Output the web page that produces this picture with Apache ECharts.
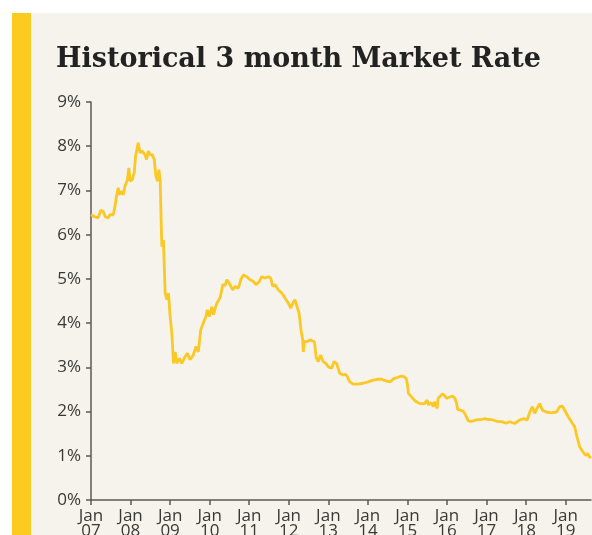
<!DOCTYPE html>
<html>
<head>
<meta charset="utf-8">
<script src="https://cdn.jsdelivr.net/npm/echarts@6/dist/echarts.min.js"></script>
<style>
  html, body { margin: 0; padding: 0; background: #fff; }
  .panel {
    position: absolute; left: 12px; top: 13px; width: 580px; height: 522px;
    background: #f5f3eb;
  }
  .bar {
    position: absolute; left: 12px; top: 13px; width: 19px; height: 522px;
    background: #fdcb1f;
  }
  #chart { position: absolute; left: 0; top: 0; width: 592px; height: 535px; }
</style>
</head>
<body>
<div class="panel"></div>
<div class="bar"></div>
<div id="chart"></div>
<script>
const dates = [
  '2007-01-01', '2007-02-07', '2007-03-08', '2007-04-02', '2007-04-23', '2007-05-14', '2007-06-09', '2007-06-25',
  '2007-07-25', '2007-08-10', '2007-08-24', '2007-09-09', '2007-09-18', '2007-10-09', '2007-10-25', '2007-11-10',
  '2007-12-03', '2007-12-16', '2007-12-28', '2008-01-16', '2008-02-04', '2008-02-16', '2008-03-12', '2008-03-28',
  '2008-04-18', '2008-05-13', '2008-05-28', '2008-06-13', '2008-06-28', '2008-07-19', '2008-08-07', '2008-08-23',
  '2008-09-06', '2008-09-19', '2008-10-01', '2008-10-12', '2008-10-17', '2008-10-31', '2008-11-16', '2008-12-02',
  '2008-12-17', '2009-01-01', '2009-01-17', '2009-02-01', '2009-02-17', '2009-03-04', '2009-03-28', '2009-04-19',
  '2009-05-19', '2009-06-09', '2009-07-04', '2009-08-03', '2009-08-28', '2009-09-18', '2009-10-11', '2009-11-03',
  '2009-11-28', '2009-12-10', '2009-12-29', '2010-01-21', '2010-02-05', '2010-03-08', '2010-04-08', '2010-05-02',
  '2010-05-23', '2010-06-08', '2010-07-01', '2010-08-02', '2010-08-23', '2010-09-23', '2010-10-15', '2010-11-08',
  '2010-12-09', '2011-01-09', '2011-02-08', '2011-03-05', '2011-04-04', '2011-04-26', '2011-05-27', '2011-06-26',
  '2011-07-18', '2011-08-06', '2011-08-27', '2011-09-12', '2011-09-27', '2011-10-28', '2011-11-28', '2011-12-28',
  '2012-01-19', '2012-02-12', '2012-02-27', '2012-03-17', '2012-04-04', '2012-04-23', '2012-05-09', '2012-05-14',
  '2012-05-25', '2012-06-15', '2012-07-15', '2012-08-02', '2012-08-25', '2012-09-11', '2012-09-29', '2012-10-21',
  '2012-11-14', '2012-12-09', '2013-01-01', '2013-02-01', '2013-02-22', '2013-03-18', '2013-04-17', '2013-05-18',
  '2013-06-12', '2013-07-03', '2013-07-18', '2013-08-18', '2013-10-03', '2013-11-18', '2014-01-04', '2014-02-19',
  '2014-03-28', '2014-05-08', '2014-06-08', '2014-07-24', '2014-08-30', '2014-09-29', '2014-10-30', '2014-11-30',
  '2014-12-22', '2015-01-01', '2015-01-10', '2015-02-08', '2015-03-01', '2015-03-25', '2015-04-25', '2015-06-10',
  '2015-07-01', '2015-07-14', '2015-08-11', '2015-08-26', '2015-09-10', '2015-10-02', '2015-10-11', '2015-10-27',
  '2015-11-21', '2015-12-12', '2015-12-28', '2016-01-27', '2016-02-21', '2016-03-14', '2016-03-30', '2016-04-08',
  '2016-05-06', '2016-05-30', '2016-06-21', '2016-07-15', '2016-08-15', '2016-09-30', '2016-11-15', '2016-12-15',
  '2017-01-15', '2017-02-15', '2017-04-02', '2017-05-18', '2017-07-03', '2017-08-03', '2017-09-18', '2017-11-03',
  '2017-12-10', '2018-01-10', '2018-02-04', '2018-02-28', '2018-03-21', '2018-04-11', '2018-05-06', '2018-05-31',
  '2018-07-07', '2018-08-22', '2018-10-07', '2018-11-07', '2018-12-02', '2018-12-23', '2019-01-23', '2019-02-23',
  '2019-03-25', '2019-04-15', '2019-05-10', '2019-06-09', '2019-07-04', '2019-07-25', '2019-08-16'
]
const rates = [
  6.45, 6.40, 6.38, 6.55, 6.53, 6.40, 6.38, 6.45,
  6.45, 6.64, 6.87, 7.06, 6.90, 6.98, 6.90, 7.09,
  7.24, 7.51, 7.21, 7.24, 7.40, 7.77, 8.08, 7.85,
  7.89, 7.81, 7.70, 7.89, 7.81, 7.81, 7.70, 7.32,
  7.21, 7.47, 7.24, 6.11, 5.73, 5.88, 4.68, 4.53,
  4.68, 4.15, 3.77, 3.09, 3.35, 3.09, 3.20, 3.09,
  3.24, 3.32, 3.17, 3.28, 3.47, 3.35, 3.85, 4.00,
  4.15, 4.30, 4.15, 4.37, 4.19, 4.45, 4.58, 4.87,
  4.85, 4.98, 4.90, 4.75, 4.83, 4.79, 4.98, 5.09,
  5.05, 4.98, 4.94, 4.87, 4.94, 5.05, 5.02, 5.05,
  5.02, 4.83, 4.87, 4.90, 4.75, 4.68, 4.56, 4.45,
  4.34, 4.47, 4.53, 4.37, 4.24, 3.85, 3.62, 3.35,
  3.58, 3.58, 3.62, 3.66, 3.58, 3.22, 3.13, 3.28,
  3.13, 3.09, 3.01, 2.98, 3.13, 3.09, 2.86, 2.83,
  2.84, 2.75, 2.67, 2.62, 2.62, 2.64, 2.67, 2.71,
  2.73, 2.73, 2.70, 2.67, 2.75, 2.77, 2.80, 2.79,
  2.74, 2.60, 2.41, 2.33, 2.27, 2.22, 2.18, 2.18,
  2.26, 2.15, 2.20, 2.11, 2.22, 2.07, 2.30, 2.33,
  2.40, 2.35, 2.30, 2.33, 2.35, 2.30, 2.18, 2.05,
  2.03, 2.01, 1.92, 1.79, 1.78, 1.81, 1.82, 1.84,
  1.82, 1.82, 1.78, 1.77, 1.74, 1.77, 1.73, 1.81,
  1.84, 1.81, 1.99, 2.11, 1.96, 2.07, 2.18, 2.03,
  1.99, 1.97, 1.99, 2.11, 2.12, 2.03, 1.89, 1.77,
  1.65, 1.43, 1.20, 1.09, 1.01, 1.05, 0.94
]

const yearStart = 2007
const yearEnd = 2019.64

// date string -> decimal year, so the x axis can tick on every January
function toYear(s) {
  const d = new Date(s + 'T00:00:00Z')
  const y = d.getUTCFullYear()
  const start = Date.UTC(y, 0, 1)
  const next = Date.UTC(y + 1, 0, 1)
  return y + (d.getTime() - start) / (next - start)
}

const seriesData = dates.map((d, i) => [toYear(d), rates[i]])

const axisColor = '#5c5a55'
const textColor = '#3a3835'

const option = {
  animation: false,
  title: {
    text: 'Historical 3 month Market Rate',
    left: 51,
    top: 41,
    textStyle: {
      fontFamily: 'DejaVu Serif',
      fontWeight: 'bold',
      fontSize: 27,
      color: '#222'
    }
  },
  grid: {
    left: 91,
    right: 1,
    top: 102,
    bottom: 35,
    outerBoundsMode: 'none'
  },
  xAxis: {
    type: 'value',
    min: yearStart,
    max: yearEnd,
    interval: 1,
    splitLine: { show: false },
    axisLine: { lineStyle: { color: axisColor, width: 1.5 } },
    axisTick: { length: 5, lineStyle: { color: axisColor, width: 1.5 } },
    axisLabel: {
      margin: 9,
      fontFamily: 'Open Sans',
      fontSize: 17,
      lineHeight: 15,
      color: textColor,
      showMaxLabel: false,
      formatter: v => 'Jan\n' + String(Math.round(v)).slice(2)
    }
  },
  yAxis: {
    type: 'value',
    min: 0,
    max: 9,
    interval: 1,
    splitLine: { show: false },
    axisLine: { show: true, lineStyle: { color: axisColor, width: 1.5 } },
    axisTick: { show: true, length: 5, lineStyle: { color: axisColor, width: 1.5 } },
    axisLabel: {
      margin: 10,
      fontFamily: 'Open Sans',
      fontSize: 17,
      color: textColor,
      formatter: '{value}%'
    }
  },
  series: [
    {
      type: 'line',
      data: seriesData,
      showSymbol: false,
      lineStyle: { color: '#fcc825', width: 2.8 }
    }
  ]
}

const chart = echarts.init(document.getElementById('chart'))
chart.setOption(option)
</script>
</body>
</html>
